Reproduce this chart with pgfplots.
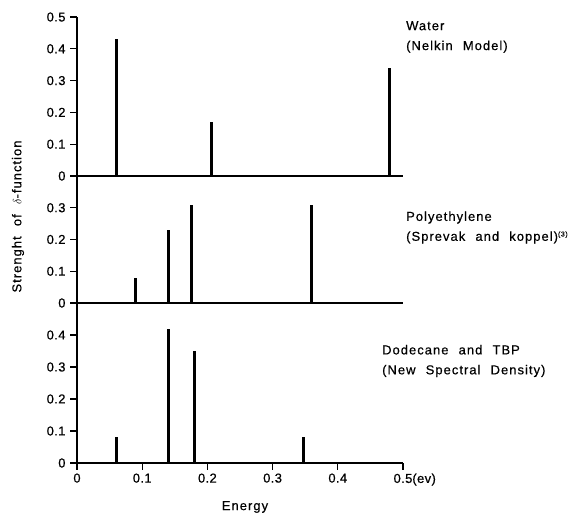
\documentclass[border=0pt]{standalone}
\usepackage{fontspec}
\setmainfont{Liberation Sans}[LetterSpace=8, WordSpace=2.2, FakeBold=0.5]
\newfontfamily\tickfont{Liberation Sans}[LetterSpace=3, FakeBold=0.5]
\usepackage{pgfplots}
\pgfplotsset{compat=1.18}
\begin{document}
\begin{tikzpicture}
\useasboundingbox (0bp,0bp) rectangle (582bp,516bp);
\pgfplotsset{
  panel/.style={
    scale only axis, width=326bp,
    xmin=0, xmax=0.5, ymin=0,
    axis x line*=bottom, axis y line*=left,
    axis line style={line width=1.6bp},
    tick align=outside, major tick length=7bp,
    every tick/.style={black, line width=1.2bp},
    tick label style={font=\tickfont\fontsize{13}{15}\selectfont},
    yticklabel style={xshift=-1bp},
    /pgf/number format/assume math mode=true,
    clip=false,
  }
}
% top panel: Water
\begin{axis}[panel, at={(77bp,340bp)}, anchor=south west, height=159bp, ymax=0.5,
  xtick=\empty, ytick={0,0.1,0.2,0.3,0.4,0.5},
  yticklabels={0,0.1,0.2,0.3,0.4,0.5}]
\addplot[ycomb, black, line width=3bp] coordinates {(0.061,0.43) (0.206,0.17) (0.48,0.34)};
\end{axis}
% middle panel: Polyethylene
\begin{axis}[panel, at={(77bp,213bp)}, anchor=south west, height=127bp, ymax=0.4,
  xtick=\empty, ytick={0,0.1,0.2,0.3},
  yticklabels={0,0.1,0.2,0.3}]
\addplot[ycomb, black, line width=3bp] coordinates {(0.09,0.08) (0.14,0.23) (0.175,0.31) (0.36,0.31)};
\end{axis}
% bottom panel: Dodecane and TBP
\begin{axis}[panel, at={(77bp,53bp)}, anchor=south west, height=160bp, ymax=0.5,
  xtick={0,0.1,0.2,0.3,0.4,0.5},
  xticklabels={0,0.1,0.2,0.3,0.4,0.5\rlap{(ev)}},
  ytick={0,0.1,0.2,0.3,0.4},
  yticklabels={0,0.1,0.2,0.3,0.4}]
\addplot[ycomb, black, line width=3bp] coordinates {(0.06,0.08) (0.14,0.42) (0.18,0.35) (0.348,0.08)};
\end{axis}
\begin{scope}[every node/.style={font=\fontsize{13}{20}\selectfont, inner sep=0pt}]
\node[anchor=west, align=left] at (406bp,479bp) {Water\\(Nelkin Model)};
\node[anchor=west, align=left] at (406bp,288.5bp) {Polyethylene\\(Sprevak and koppel)\textsuperscript{\fontsize{7}{8}\selectfont(3)}};
\node[anchor=west, align=left] at (382bp,155bp) {Dodecane and TBP\\(New Spectral Density)};
\node at (245bp,9bp) {Energy};
\node[rotate=90] at (18bp,299.5bp) {Strenght of $\delta$-function};
\end{scope}
\end{tikzpicture}
\end{document}
